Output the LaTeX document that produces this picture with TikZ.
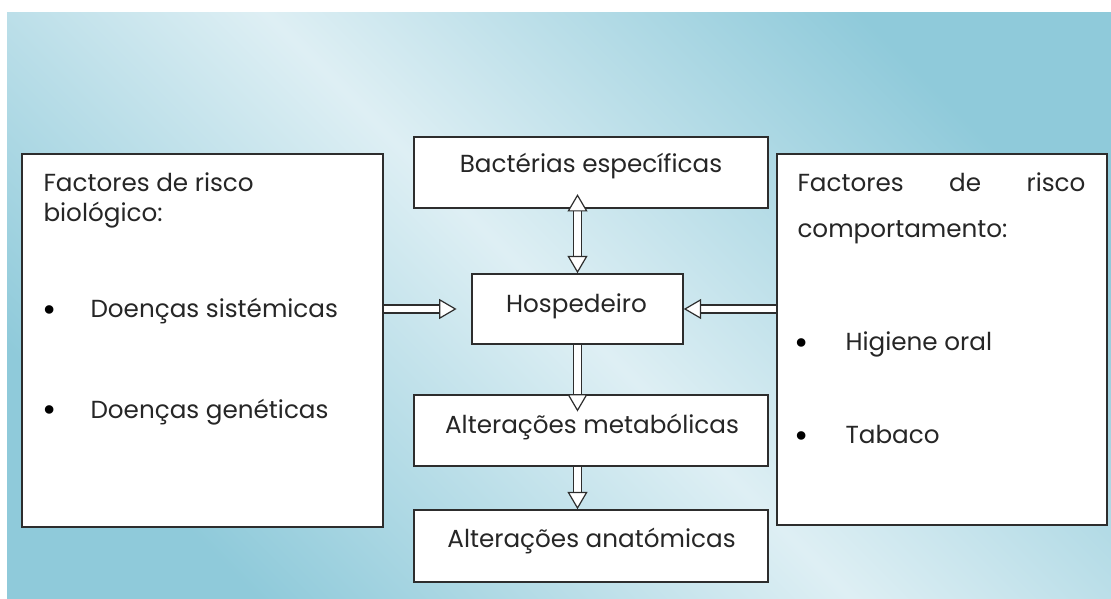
\documentclass[tikz,border=0pt]{standalone}
\usepackage{fontspec}
\setmainfont{Poppins}
\usetikzlibrary{arrows.meta}

\definecolor{bgdark}{RGB}{143,202,218}
\definecolor{bglight}{RGB}{222,239,244}
\definecolor{edge}{RGB}{45,45,45}

\tikzset{every picture/.style={line width=0.75pt}}
\tikzset{
  box/.style={draw=edge, line width=1.2pt, fill=white, inner sep=0pt},
  txt/.style={font=\fontsize{18.5}{22}\selectfont, text=black!85, inner sep=0pt},
  dot/.style={font=\fontsize{26}{26}\selectfont, text=black, inner sep=0pt},
  tip/.tip={Triangle[fill=white, line width=0.9pt, width=15pt, length=13pt]},
  hollow/.style={draw=edge, line width=0.9pt, double=white, double distance=5pt, -tip},
}

\begin{document}
\begin{tikzpicture}[x=0.75pt,y=0.75pt,yscale=-1,xscale=1]
	\useasboundingbox (0,0) rectangle (1111,599);

	%Background
	\shade [top color=bgdark, bottom color=bgdark, middle color=bglight, shading angle=-45] (7,13) rectangle (1111,599);

	%Boxes
	\node [box, minimum width=270.75pt, minimum height=279.75pt] (biol) at (202.5,340.5) {};
	\node [box, minimum width=247.5pt, minimum height=278.25pt] (comp) at (942,339.5) {};
	\node [box, minimum width=265.5pt, minimum height=53.25pt] (bact) at (591,172.5) {};
	\node [box, minimum width=158.25pt, minimum height=52.5pt] (host) at (577.5,309) {};
	\node [box, minimum width=265.5pt, minimum height=53.25pt] (metab) at (591,430.5) {};
	\node [box, minimum width=265.5pt, minimum height=54pt] (anat) at (591,546) {};

	% Text Node
	\node [txt, anchor=base west] (biolA) at (43,192) {Factores de risco};
	\node [txt, anchor=base west] (biolB) at (43,222) {biológico:};
	\node [dot] (biolDot1) at (50,314) {\textbullet};
	\node [txt, anchor=base west] (biolItem1) at (90,317) {Doenças sistémicas};
	\node [dot] (biolDot2) at (50,414) {\textbullet};
	\node [txt, anchor=base west] (biolItem2) at (90,418) {Doenças genéticas};

	\node [txt, anchor=base west] (compA) at (797,192) {\hbox to 216pt{Factores\hfill de\hfill risco}};
	\node [txt, anchor=base west] (compB) at (797,238) {comportamento:};
	\node [dot] (compDot1) at (802,347) {\textbullet};
	\node [txt, anchor=base west] (compItem1) at (845,350) {Higiene oral};
	\node [dot] (compDot2) at (802,440) {\textbullet};
	\node [txt, anchor=base west] (compItem2) at (845,443) {Tabaco};

	\node [txt, anchor=base] (bactT) at (591,173) {Bactérias específicas};
	\node [txt, anchor=base] (hostT) at (576.5,312) {Hospedeiro};
	\node [txt, anchor=base] (metabT) at (592,433) {Alterações metabólicas};
	\node [txt, anchor=base] (anatT) at (591.5,547) {Alterações anatómicas};

	%Arrows
	\draw [hollow, tip-tip] (host.north) -- ([yshift=-11pt]bact.south -| host.north);
	\draw [hollow] (biol.east |- host) -- ([xshift=-11pt]host.west);
	\draw [hollow] (comp.west |- host) -- (host.east);
	\draw [hollow] (host.south) -- ([yshift=13pt]metab.north -| host.south);
	\draw [hollow] (metab.south -| host.south) -- (anat.north -| host.south);

\end{tikzpicture}
\end{document}
